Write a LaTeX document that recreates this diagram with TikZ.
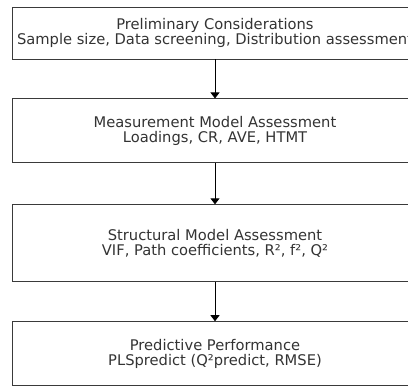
\documentclass[tikz,border=0pt]{standalone}
\usepackage{fontspec}
\setmainfont{DejaVu Sans}
\usepackage{tikz}
\usetikzlibrary{positioning, arrows.meta}
\usepackage{xcolor}
\definecolor{edgegray}{HTML}{3A3A3A}
\definecolor{textgray}{HTML}{333333}

\begin{document}
\begin{tikzpicture}[node distance=39pt, auto]

\tikzstyle{block} = [
    rectangle,
    draw=edgegray,
    line width=0.9pt,
    text=textgray,
    align=center,
    minimum width=406pt,
    inner sep=2pt,
    font=\fontsize{14.7}{15.4}\selectfont
];
\tikzstyle{flow} = [
    -{Triangle[length=6pt, width=9pt]},
    draw=black,
    line width=0.9pt
];

\clip (0,0) rectangle (408pt,-387pt);

\node[block, minimum height=52pt] (prelim) at (215pt,-33pt) {Preliminary Considerations \\ Sample size, Data screening, Distribution assessment};
\node[block, minimum height=64pt, below=39pt of prelim] (measure) {Measurement Model Assessment \\ Loadings, CR, AVE, HTMT};
\node[block, minimum height=77pt, below=41pt of measure] (struct) {Structural Model Assessment \\ VIF, Path coefficients, R², f², Q²};
\node[block, minimum height=64pt, below=39pt of struct] (predict) {Predictive Performance \\ PLSpredict (Q²predict, RMSE)};

\draw[flow] (prelim) -- (measure);
\draw[flow] (measure) -- (struct);
\draw[flow] (struct) -- (predict);

\end{tikzpicture}
\end{document}
